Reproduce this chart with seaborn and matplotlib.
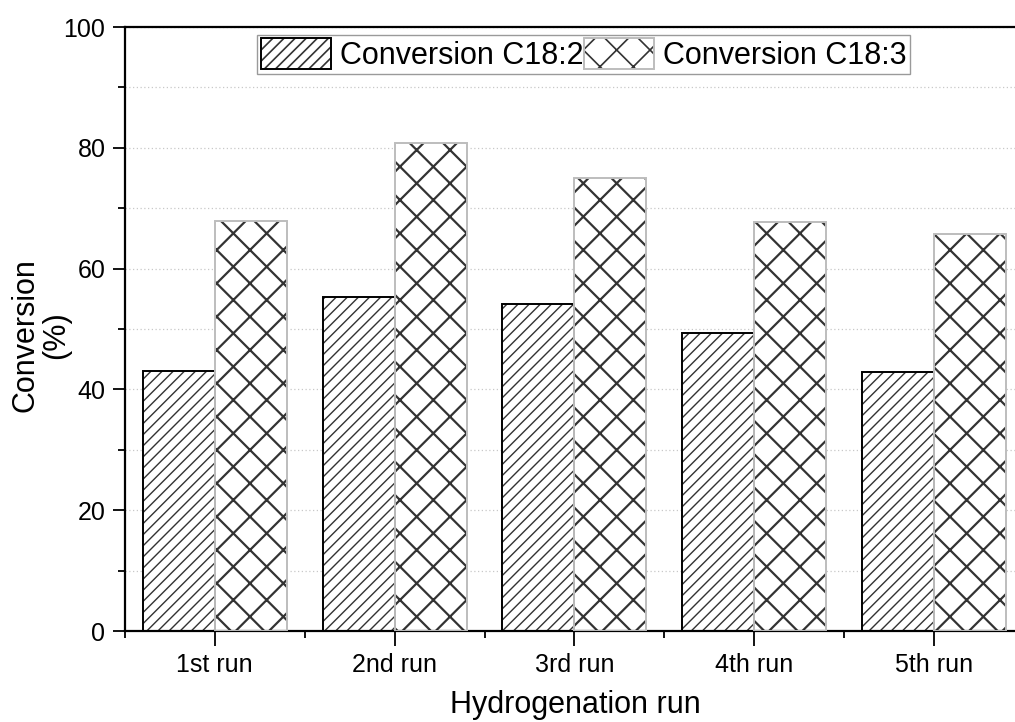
import pandas as pd
import matplotlib.pyplot as plt
import seaborn as sns
from matplotlib.patches import Patch, Rectangle
from matplotlib.legend_handler import HandlerTuple
from matplotlib.ticker import MultipleLocator

# --- Data ---
runs = ['1st run', '2nd run', '3rd run', '4th run', '5th run']
series_names = ['Conversion C18:2', 'Conversion C18:3']
conv_c182 = [43.0, 55.3, 54.2, 49.3, 42.9]
conv_c183 = [67.8, 80.8, 75.0, 67.7, 65.8]

df = pd.DataFrame({
    'run': runs * 2,
    'series': [series_names[0]] * len(runs) + [series_names[1]] * len(runs),
    'conversion': conv_c182 + conv_c183,
})

# --- Style ---
sns.set_style('ticks')
plt.rcParams['font.family'] = ['Liberation Sans', 'DejaVu Sans']
plt.rcParams['text.color'] = 'black'
plt.rcParams['axes.labelcolor'] = 'black'
plt.rcParams['hatch.linewidth'] = 1.2
plt.rcParams['patch.force_edgecolor'] = False

hatches = ['///', 'x']
hatch_lw = [1.0, 1.6]
hatch_col = '#333333'
outline_cols = ['black', '#bdbdbd']

fig = plt.figure(figsize=(10.15, 7.22), dpi=100)
ax = fig.add_axes([0.123, 0.126, 0.877, 0.8366])

sns.barplot(data=df, x='run', y='conversion', hue='series', hue_order=series_names,
            palette=['white', 'white'], width=0.8, saturation=1, legend=False,
            zorder=2, ax=ax)

# hatch in dark grey, outline drawn on top in its own colour
for cont, h, hl, oc in zip(ax.containers, hatches, hatch_lw, outline_cols):
    for bar in cont:
        bar.set_hatch(h)
        bar.set_edgecolor(hatch_col)
        bar.set_linewidth(0)
        if hasattr(bar, 'set_hatch_linewidth'):
            bar.set_hatch_linewidth(hl)
        ax.add_patch(Rectangle(bar.get_xy(), bar.get_width(), bar.get_height(),
                               fill=False, edgecolor=oc, linewidth=1.4, zorder=3))

ax.set_ylim(0, 100)
ax.set_xlim(-0.5, 4.45)
ax.yaxis.set_major_locator(MultipleLocator(20))
ax.yaxis.set_minor_locator(MultipleLocator(10))
ax.xaxis.set_minor_locator(MultipleLocator(1, offset=0.5))
ax.grid(which='both', axis='y', color='#c8c8c8', linestyle=(0, (1, 2)), linewidth=0.9, zorder=0)
ax.set_axisbelow(True)

for side in ['left', 'bottom', 'top']:
    ax.spines[side].set_linewidth(1.6)
    ax.spines[side].set_color('black')
ax.spines['right'].set_visible(False)

ax.tick_params(which='major', direction='out', length=9, width=1.3, labelsize=18, pad=5,
               colors='black')
ax.tick_params(which='minor', direction='out', length=5, width=1.3, colors='black')
ax.tick_params(axis='x', which='major', length=11)
ax.tick_params(axis='x', which='minor', length=5)
ax.tick_params(top=False, right=False, which='both')

ax.set_xlabel('Hydrogenation run', fontsize=22, color='black')
ax.set_ylabel('Conversion\n(%)', fontsize=22, linespacing=1.05, color='black')
ax.xaxis.set_label_coords(0.506, -0.097)
ax.yaxis.set_label_coords(-0.06, 0.49)

handles = []
for h, hl, oc in zip(hatches, hatch_lw, outline_cols):
    fill_patch = Patch(facecolor='white', edgecolor=hatch_col, hatch=h, linewidth=0)
    if hasattr(fill_patch, 'set_hatch_linewidth'):
        fill_patch.set_hatch_linewidth(hl)
    edge_patch = Patch(fill=False, edgecolor=oc, linewidth=1.4)
    handles.append((fill_patch, edge_patch))

leg = ax.legend(handles, series_names, handler_map={tuple: HandlerTuple(ndivide=1, pad=0)},
                loc='upper left', bbox_to_anchor=(0.14, 1.0), ncol=2, fontsize=22,
                frameon=True, fancybox=False, edgecolor='#9a9a9a', framealpha=1,
                handlelength=2.3, handleheight=1.15, handletextpad=0.3,
                columnspacing=0.0, borderpad=0.12, borderaxespad=0.25)
leg.get_frame().set_linewidth(1.0)
for t in leg.get_texts():
    t.set_color('black')

plt.savefig('out.png', dpi=100)
plt.close()
